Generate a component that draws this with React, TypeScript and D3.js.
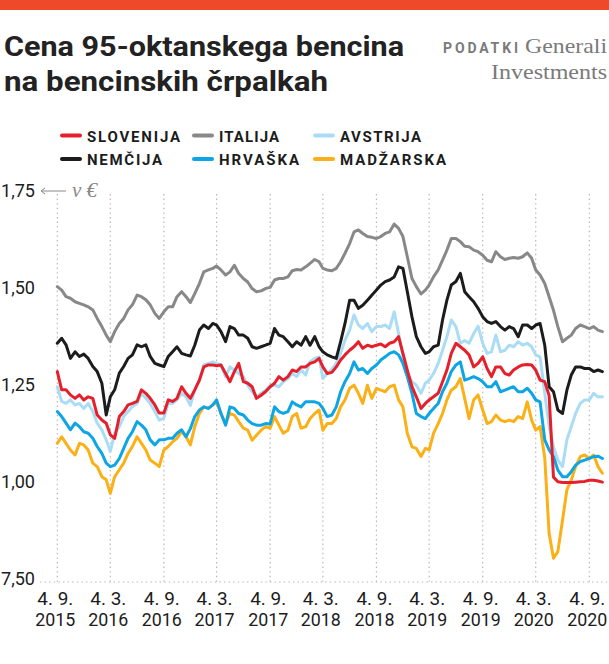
import React from "react";
import * as d3 from "d3";

// ---- data (semi-monthly readings: 4th and 19th of each month, from 4. 9. 2015) ----
const startYear = 2015;
const startMonth = 8; // September (0-based)
const sampleDays = [4, 19];

const slovenia = [
  1.282, 1.235, 1.235, 1.222, 1.213, 1.222, 1.209, 1.217, 1.213, 1.170,
  1.157, 1.149, 1.119, 1.110, 1.166, 1.179, 1.196, 1.200, 1.205, 1.235,
  1.226, 1.213, 1.196, 1.175, 1.175, 1.209, 1.205, 1.213, 1.243, 1.226,
  1.213, 1.235, 1.260, 1.294, 1.299, 1.299, 1.297, 1.299, 1.277, 1.256,
  1.282, 1.303, 1.256, 1.252, 1.243, 1.213, 1.221, 1.230, 1.243, 1.252,
  1.269, 1.260, 1.269, 1.286, 1.282, 1.294, 1.294, 1.303, 1.307, 1.316,
  1.294, 1.277, 1.280, 1.294, 1.312, 1.325, 1.337, 1.346, 1.359, 1.342,
  1.350, 1.346, 1.350, 1.353, 1.346, 1.355, 1.359, 1.372, 1.329, 1.286,
  1.243, 1.217, 1.187, 1.200, 1.209, 1.217, 1.226, 1.256, 1.286, 1.329,
  1.355, 1.346, 1.337, 1.325, 1.294, 1.303, 1.320, 1.290, 1.269, 1.294,
  1.294, 1.277, 1.273, 1.286, 1.294, 1.299, 1.300, 1.299, 1.286, 1.260,
  1.256, 1.220, 1.010, 0.998, 0.996, 0.996, 0.996, 0.997, 0.998, 0.999,
  1.002, 1.002, 1.000, 0.997,
];

const germany = [
  1.355, 1.368, 1.351, 1.316, 1.333, 1.321, 1.327, 1.316, 1.295, 1.282,
  1.252, 1.170, 1.217, 1.235, 1.278, 1.295, 1.316, 1.325, 1.351, 1.346,
  1.351, 1.321, 1.303, 1.299, 1.295, 1.321, 1.333, 1.346, 1.329, 1.325,
  1.322, 1.350, 1.389, 1.402, 1.393, 1.406, 1.402, 1.385, 1.359, 1.398,
  1.393, 1.376, 1.376, 1.368, 1.346, 1.342, 1.346, 1.350, 1.355, 1.393,
  1.376, 1.372, 1.359, 1.346, 1.359, 1.350, 1.372, 1.350, 1.372, 1.346,
  1.333, 1.325, 1.320, 1.316, 1.359, 1.406, 1.466, 1.466, 1.445, 1.453,
  1.466, 1.479, 1.492, 1.505, 1.514, 1.518, 1.526, 1.552, 1.548, 1.488,
  1.423, 1.372, 1.346, 1.329, 1.333, 1.346, 1.350, 1.415, 1.466, 1.505,
  1.514, 1.535, 1.488, 1.475, 1.462, 1.445, 1.423, 1.411, 1.406, 1.411,
  1.398, 1.389, 1.398, 1.393, 1.372, 1.402, 1.402, 1.393, 1.402, 1.406,
  1.350, 1.243, 1.230, 1.183, 1.174, 1.234, 1.273, 1.294, 1.294, 1.290,
  1.290, 1.282, 1.286, 1.282,
];

const italy = [
  1.501, 1.492, 1.475, 1.471, 1.462, 1.458, 1.454, 1.449, 1.441, 1.419,
  1.398, 1.376, 1.359, 1.385, 1.406, 1.419, 1.441, 1.454, 1.479, 1.475,
  1.467, 1.454, 1.432, 1.419, 1.436, 1.449, 1.449, 1.475, 1.488, 1.475,
  1.460, 1.483, 1.509, 1.539, 1.544, 1.548, 1.554, 1.544, 1.531, 1.539,
  1.556, 1.535, 1.522, 1.513, 1.496, 1.488, 1.490, 1.496, 1.499, 1.518,
  1.522, 1.522, 1.526, 1.542, 1.545, 1.544, 1.552, 1.561, 1.571, 1.565,
  1.548, 1.544, 1.542, 1.548, 1.565, 1.587, 1.612, 1.642, 1.647, 1.638,
  1.630, 1.628, 1.625, 1.630, 1.638, 1.642, 1.662, 1.651, 1.630, 1.578,
  1.522, 1.501, 1.482, 1.492, 1.505, 1.526, 1.544, 1.569, 1.595, 1.625,
  1.625, 1.617, 1.605, 1.604, 1.595, 1.591, 1.582, 1.569, 1.565, 1.591,
  1.578, 1.571, 1.574, 1.576, 1.574, 1.578, 1.588, 1.574, 1.544, 1.531,
  1.509, 1.475, 1.440, 1.398, 1.359, 1.368, 1.376, 1.393, 1.402, 1.398,
  1.393, 1.398, 1.389, 1.385,
];

const croatia = [
  1.179, 1.166, 1.149, 1.132, 1.149, 1.140, 1.127, 1.123, 1.110, 1.089,
  1.071, 1.046, 1.037, 1.041, 1.058, 1.084, 1.110, 1.127, 1.153, 1.144,
  1.132, 1.106, 1.093, 1.106, 1.106, 1.110, 1.110, 1.123, 1.132, 1.114,
  1.135, 1.166, 1.183, 1.191, 1.187, 1.196, 1.209, 1.174, 1.144, 1.191,
  1.187, 1.174, 1.170, 1.157, 1.148, 1.144, 1.144, 1.148, 1.147, 1.191,
  1.179, 1.174, 1.179, 1.204, 1.196, 1.191, 1.204, 1.204, 1.204, 1.200,
  1.187, 1.166, 1.170, 1.191, 1.230, 1.256, 1.277, 1.307, 1.286, 1.290,
  1.277, 1.290, 1.299, 1.312, 1.320, 1.329, 1.333, 1.325, 1.303, 1.269,
  1.226, 1.174, 1.166, 1.161, 1.174, 1.187, 1.200, 1.230, 1.252, 1.282,
  1.299, 1.307, 1.260, 1.264, 1.269, 1.264, 1.256, 1.243, 1.243, 1.256,
  1.230, 1.234, 1.239, 1.243, 1.230, 1.230, 1.239, 1.226, 1.209, 1.204,
  1.106, 1.080, 1.063, 1.028, 1.011, 1.011, 1.024, 1.041, 1.050, 1.054,
  1.058, 1.063, 1.064, 1.058,
];

const austria = [
  1.243, 1.205, 1.200, 1.209, 1.196, 1.200, 1.187, 1.200, 1.179, 1.149,
  1.132, 1.106, 1.076, 1.123, 1.140, 1.166, 1.179, 1.192, 1.200, 1.226,
  1.213, 1.200, 1.179, 1.157, 1.162, 1.200, 1.200, 1.209, 1.226, 1.217,
  1.195, 1.234, 1.260, 1.299, 1.303, 1.307, 1.303, 1.299, 1.269, 1.294,
  1.286, 1.277, 1.269, 1.247, 1.230, 1.217, 1.226, 1.234, 1.247, 1.247,
  1.243, 1.256, 1.264, 1.277, 1.269, 1.286, 1.273, 1.307, 1.316, 1.320,
  1.264, 1.277, 1.288, 1.303, 1.329, 1.363, 1.389, 1.428, 1.402, 1.393,
  1.406, 1.385, 1.398, 1.398, 1.402, 1.393, 1.436, 1.380, 1.320, 1.277,
  1.256, 1.247, 1.226, 1.252, 1.260, 1.277, 1.303, 1.337, 1.372, 1.415,
  1.398, 1.355, 1.362, 1.355, 1.380, 1.399, 1.355, 1.329, 1.333, 1.376,
  1.333, 1.337, 1.350, 1.346, 1.359, 1.350, 1.355, 1.346, 1.325, 1.320,
  1.226, 1.140, 1.088, 1.054, 1.037, 1.106, 1.140, 1.174, 1.200, 1.209,
  1.209, 1.226, 1.217, 1.217,
];

const hungary = [
  1.097, 1.114, 1.097, 1.080, 1.067, 1.097, 1.093, 1.080, 1.046, 1.037,
  1.011, 1.003, 0.968, 1.011, 1.029, 1.046, 1.071, 1.089, 1.114, 1.097,
  1.080, 1.054, 1.046, 1.037, 1.080, 1.089, 1.101, 1.110, 1.127, 1.114,
  1.093, 1.140, 1.174, 1.191, 1.187, 1.196, 1.204, 1.174, 1.148, 1.174,
  1.170, 1.153, 1.136, 1.131, 1.105, 1.118, 1.131, 1.140, 1.136, 1.166,
  1.144, 1.123, 1.131, 1.166, 1.174, 1.136, 1.140, 1.161, 1.174, 1.183,
  1.131, 1.148, 1.148, 1.161, 1.191, 1.209, 1.239, 1.247, 1.226, 1.200,
  1.247, 1.213, 1.239, 1.234, 1.230, 1.243, 1.247, 1.209, 1.191, 1.123,
  1.088, 1.084, 1.063, 1.084, 1.080, 1.123, 1.148, 1.174, 1.209, 1.234,
  1.243, 1.264, 1.213, 1.161, 1.209, 1.222, 1.183, 1.148, 1.153, 1.170,
  1.157, 1.153, 1.157, 1.153, 1.166, 1.161, 1.204, 1.157, 1.131, 1.140,
  1.060, 0.865, 0.801, 0.818, 0.899, 0.977, 1.002, 1.037, 1.063, 1.067,
  1.058, 1.067, 1.037, 1.020,
];

const countryNames = ["SLOVENIJA", "NEMČIJA", "ITALIJA", "HRVAŠKA", "AVSTRIJA", "MADŽARSKA"];
const tickDates = [
  "2015-09-04", "2016-03-04", "2016-09-04", "2017-03-04", "2017-09-04", "2018-03-04",
  "2018-09-04", "2019-03-04", "2019-09-04", "2020-03-04", "2020-09-04",
];
const yTicks = [1.75, 1.5, 1.25, 1.0, 0.75];
const yTickLabels = ["1,75", "1,50", "1,25", "1,00", "7,50"];

const titleLines = ["Cena 95-oktanskega bencina", "na bencinskih črpalkah"];

// ---- styles ----
const colors: Record<string, string> = {
  SLOVENIJA: "#e5202b",
  NEMČIJA: "#1c1c1c",
  ITALIJA: "#888888",
  HRVAŠKA: "#0ea5e4",
  AVSTRIJA: "#aadcf5",
  MADŽARSKA: "#fbb017",
};

const seriesData: Record<string, number[]> = {
  SLOVENIJA: slovenia,
  NEMČIJA: germany,
  ITALIJA: italy,
  HRVAŠKA: croatia,
  AVSTRIJA: austria,
  MADŽARSKA: hungary,
};

const drawOrder = ["MADŽARSKA", "AVSTRIJA", "HRVAŠKA", "ITALIJA", "NEMČIJA", "SLOVENIJA"];

const legendLayout: Record<string, { col: number; row: number; w: number }> = {
  SLOVENIJA: { col: 0, row: 0, w: 93 },
  NEMČIJA: { col: 0, row: 1, w: 75 },
  ITALIJA: { col: 1, row: 0, w: 60 },
  HRVAŠKA: { col: 1, row: 1, w: 80 },
  AVSTRIJA: { col: 2, row: 0, w: 81 },
  MADŽARSKA: { col: 2, row: 1, w: 106 },
};

const sansFont = "Roboto, 'Noto Sans', sans-serif";
const serifFont = "'Liberation Serif', 'DejaVu Serif', serif";

export default function App() {
  const W = 609;
  const H = 664;

  const parse = d3.timeParse("%Y-%m-%d");
  const x = d3
    .scaleTime()
    .domain([new Date(2015, 8, 4), new Date(2020, 8, 4)])
    .range([57.3, 589.3]);
  const y = d3.scaleLinear().domain([0.75, 1.75]).range([578, 190]);

  const dateAt = (k: number) =>
    new Date(startYear, startMonth + Math.floor(k / 2), sampleDays[k % 2]);

  const line = d3
    .line<number>()
    .x((_, i) => x(dateAt(i)))
    .y((d) => y(d))
    .curve(d3.curveLinear);

  const fmtDM = d3.timeFormat("%-d. %-m.");
  const fmtY = d3.timeFormat("%Y");

  const legendColX = [62, 194, 315];
  const legendRowY = [141.5, 165];

  return (
    <svg
      width={W}
      height={H}
      viewBox={`0 0 ${W} ${H}`}
      style={{ position: "absolute", left: 0, top: 0, background: "#fff" }}
    >
      <rect x={0} y={0} width={W} height={10} fill="#ee4a2a" />

      {/* title */}
      <text
        x={4}
        y={56}
        fontFamily={sansFont}
        fontWeight={700}
        fontSize={28}
        fill="#222"
        textLength={400}
        lengthAdjust="spacingAndGlyphs"
      >
        {titleLines[0]}
      </text>
      <text
        x={4}
        y={91}
        fontFamily={sansFont}
        fontWeight={700}
        fontSize={28}
        fill="#222"
        textLength={324}
        lengthAdjust="spacingAndGlyphs"
      >
        {titleLines[1]}
      </text>

      {/* source */}
      <text
        x={443}
        y={53}
        fontFamily={sansFont}
        fontWeight={700}
        fontSize={14}
        fill="#7a7a7a"
        textLength={75}
        lengthAdjust="spacing"
      >
        PODATKI
      </text>
      <text
        x={607}
        y={53}
        textAnchor="end"
        fontFamily={serifFont}
        fontSize={22}
        fill="#7a7a7a"
        textLength={82}
        lengthAdjust="spacingAndGlyphs"
      >
        Generali
      </text>
      <text
        x={607}
        y={79}
        textAnchor="end"
        fontFamily={serifFont}
        fontSize={22}
        fill="#7a7a7a"
        textLength={116}
        lengthAdjust="spacingAndGlyphs"
      >
        Investments
      </text>

      {/* legend */}
      {countryNames.map((name) => {
        const L = legendLayout[name];
        const lx = legendColX[L.col];
        const ly = legendRowY[L.row];
        return (
          <g key={name}>
            <line
              x1={lx}
              x2={lx + 18}
              y1={ly - 6}
              y2={ly - 6}
              stroke={colors[name]}
              strokeWidth={4}
              strokeLinecap="round"
            />
            <text
              x={lx + 25}
              y={ly}
              fontFamily={sansFont}
              fontWeight={700}
              fontSize={15}
              fill="#1c1c1c"
              textLength={L.w}
              lengthAdjust="spacing"
            >
              {name}
            </text>
          </g>
        );
      })}

      {/* vertical dotted grid */}
      {tickDates.map((s) => {
        const d = parse(s)!;
        return (
          <line
            key={"g" + s}
            x1={x(d)}
            x2={x(d)}
            y1={194}
            y2={582}
            stroke="#b5b5b5"
            strokeWidth={1.2}
            strokeDasharray="1.4,3.2"
          />
        );
      })}
      {/* baseline dotted */}
      <line
        x1={40}
        x2={W}
        y1={582}
        y2={582}
        stroke="#b5b5b5"
        strokeWidth={1.2}
        strokeDasharray="1.4,3.2"
      />

      {/* y labels */}
      {yTicks.map((t, i) => (
        <text
          key={"y" + t}
          x={1}
          y={y(t) + 6.5}
          fontFamily={sansFont}
          fontSize={19}
          fill="#1c1c1c"
          textLength={34}
          lengthAdjust="spacingAndGlyphs"
        >
          {yTickLabels[i]}
        </text>
      ))}

      {/* unit annotation */}
      <line x1={41} x2={66} y1={y(1.75) + 1} y2={y(1.75) + 1} stroke="#888" strokeWidth={1} />
      <path
        d={`M${45},${y(1.75) - 2} L${41},${y(1.75) + 1} L${45},${y(1.75) + 4}`}
        fill="none"
        stroke="#888"
        strokeWidth={1}
      />
      <text
        x={72}
        y={y(1.75) + 7}
        fontFamily={serifFont}
        fontStyle="italic"
        fontSize={21}
        fill="#888"
      >
        v €
      </text>

      {/* x labels */}
      {tickDates.map((s) => {
        const d = parse(s)!;
        const cx = x(d) - 2;
        return (
          <g key={"x" + s} fontFamily={sansFont} fontSize={19} fill="#1c1c1c">
            <text
              x={cx}
              y={605}
              textAnchor="middle"
              textLength={36}
              lengthAdjust="spacingAndGlyphs"
            >
              {fmtDM(d)}
            </text>
            <text
              x={cx}
              y={626}
              textAnchor="middle"
              textLength={40}
              lengthAdjust="spacingAndGlyphs"
            >
              {fmtY(d)}
            </text>
          </g>
        );
      })}

      {/* series */}
      {drawOrder.map((name) => (
        <path
          key={"s" + name}
          d={line(seriesData[name]) || ""}
          fill="none"
          stroke={colors[name]}
          strokeWidth={3}
          strokeLinejoin="round"
          strokeLinecap="round"
        />
      ))}
    </svg>
  );
}
